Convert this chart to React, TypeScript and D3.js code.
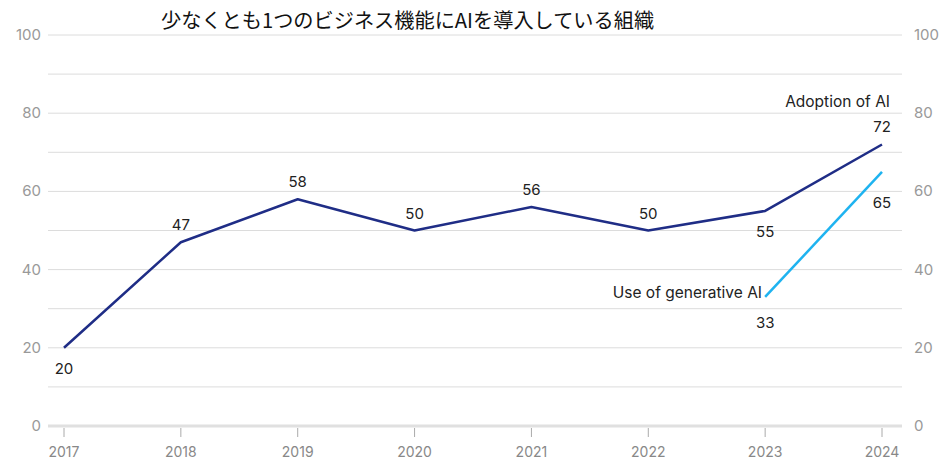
import React from "react";
import * as d3 from "d3";

const years = ["2017", "2018", "2019", "2020", "2021", "2022", "2023", "2024"];
const adoption = [20, 47, 58, 50, 56, 50, 55, 72];
const genYears = ["2023", "2024"];
const genAI = [33, 65];
const yTicks = [0, 20, 40, 60, 80, 100];
const gridVals = [10, 20, 30, 40, 50, 60, 70, 80, 90, 100];
const adoptionLabelPos = ["below", "above", "above", "above", "above", "above", "below", "above"];
const genLabelPos = ["below", "below"];
const title = "少なくとも1つのビジネス機能にAIを導入している組織";

const W = 942, H = 461;
const NAVY = "#1f2d86";
const SKY = "#1eb3f0";
const FONT = "Inter, 'Liberation Sans', sans-serif";

export default function App() {
  const x = d3.scalePoint<string>().domain(years).range([64, 882]);
  const y = d3.scaleLinear().domain([0, 100]).range([426, 35]);
  const line = d3.line<[string, number]>().x((d) => x(d[0])!).y((d) => y(d[1]));
  const adoptData: [string, number][] = years.map((yr, i) => [yr, adoption[i]]);
  const genData: [string, number][] = genYears.map((yr, i) => [yr, genAI[i]]);

  return (
    <svg width={W} height={H} style={{ position: "absolute", left: 0, top: 0, background: "#fff" }}>
      <text x={161} y={28} fontFamily="'Noto Sans CJK JP', sans-serif" fontSize={20.2} fill="#111">{title}</text>
      {gridVals.map((v) => (
        <line key={v} x1={48} x2={902} y1={y(v)} y2={y(v)} stroke="#dcdcdc" strokeWidth={1} />
      ))}
      <line x1={48} x2={902} y1={y(0)} y2={y(0)} stroke="#e0e0e0" strokeWidth={3} />
      {years.map((yr) => (
        <g key={yr}>
          <line x1={x(yr)!} x2={x(yr)!} y1={428} y2={437} stroke="#aaa" strokeWidth={1} />
          <text x={x(yr)!} y={457} textAnchor="middle" fontFamily={FONT} fontSize={14} fill="#888">{yr}</text>
        </g>
      ))}
      {yTicks.map((v) => (
        <g key={v}>
          <text x={41} y={y(v) + 5} textAnchor="end" fontFamily={FONT} fontSize={15} fill="#999">{v}</text>
          <text x={914} y={y(v) + 5} textAnchor="start" fontFamily={FONT} fontSize={15} fill="#999">{v}</text>
        </g>
      ))}
      <path d={line(adoptData)!} fill="none" stroke={NAVY} strokeWidth={2.5} strokeLinejoin="round" />
      <path d={line(genData)!} fill="none" stroke={SKY} strokeWidth={2.5} />
      {adoptData.map((d, i) => (
        <text key={d[0]} x={x(d[0])!} y={y(d[1]) + (adoptionLabelPos[i] === "above" ? -12 : 26)}
          textAnchor="middle" fontFamily={FONT} fontSize={15} fill="#222">{d[1]}</text>
      ))}
      {genData.map((d, i) => (
        <text key={d[0]} x={x(d[0])!} y={y(d[1]) + (genLabelPos[i] === "below" ? (i === 1 ? 36 : 31) : -12)}
          textAnchor="middle" fontFamily={FONT} fontSize={15} fill="#222">{d[1]}</text>
      ))}
      <text x={890} y={107} textAnchor="end" fontFamily={FONT} fontSize={15.5} fill="#222">Adoption of AI</text>
      <text x={762} y={298} textAnchor="end" fontFamily={FONT} fontSize={15.5} fill="#222">Use of generative AI</text>
    </svg>
  );
}
